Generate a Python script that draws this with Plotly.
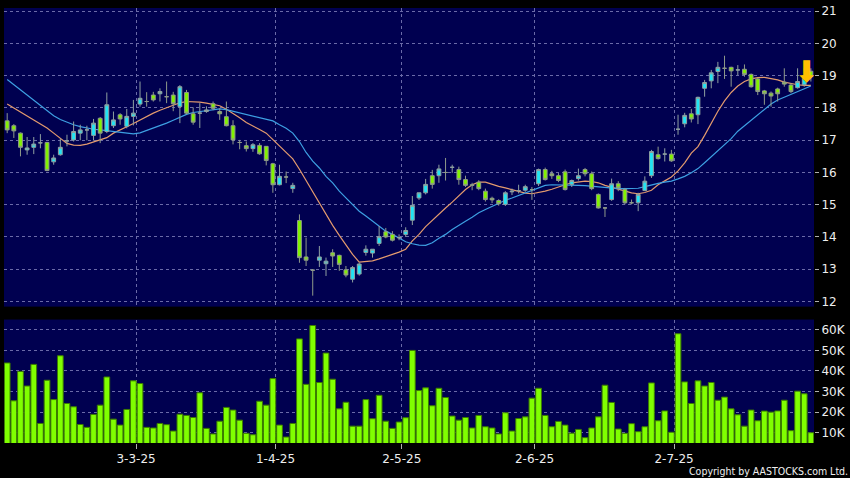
import plotly.graph_objects as go

# ---------------- data ----------------
opens = [17.60,17.45,17.22,16.70,16.78,16.92,16.93,16.33,16.55,16.98,
         17.01,17.22,17.32,17.15,17.68,17.27,17.45,17.79,17.43,17.74,
         18.12,18.20,18.40,18.44,18.35,18.40,18.04,18.48,17.82,17.84,
         17.89,18.13,17.89,17.73,17.45,16.93,16.83,16.74,16.84,16.81,
         16.27,15.62,15.86,15.50,14.51,13.38,12.97,13.28,13.17,13.51,
         13.43,12.98,12.69,12.85,13.52,13.50,13.80,14.16,14.08,13.98,
         14.08,14.52,15.21,15.37,15.90,15.90,16.00,16.16,16.09,15.78,
         15.62,15.70,15.42,15.20,15.13,15.01,15.40,15.44,15.45,15.47,
         15.65,16.09,15.96,15.90,16.02,15.63,15.81,16.09,15.96,15.32,
         14.90,15.16,15.65,15.47,15.06,15.06,15.44,15.90,16.55,16.57,
         16.57,17.34,17.51,17.82,17.79,18.61,18.84,19.13,19.23,19.26,
         19.18,19.20,19.04,18.90,18.53,18.46,18.59,18.80,18.71,18.63,
         18.72,19.14]

highs = [17.84,17.50,17.24,17.10,17.10,17.19,16.95,16.55,17.05,17.17,
         17.58,17.48,17.45,17.66,17.72,18.48,17.89,17.84,17.97,18.25,
         18.82,18.49,18.50,18.61,18.82,18.50,18.71,18.56,18.02,18.15,
         18.05,18.20,17.99,18.20,17.62,17.01,16.96,16.91,16.91,16.82,
         16.30,16.24,16.03,15.68,14.70,13.98,13.00,13.72,13.36,13.62,
         13.45,13.10,13.10,13.20,13.74,13.62,14.34,14.28,14.18,14.08,
         14.30,15.27,15.37,15.80,16.08,16.24,16.45,16.24,16.18,15.90,
         15.68,15.76,15.50,15.25,15.17,15.42,15.50,15.62,15.62,15.55,
         16.12,16.15,16.05,15.98,16.09,15.78,16.12,16.14,16.03,15.35,
         14.92,15.81,15.73,15.52,15.16,15.37,15.88,16.70,16.80,16.75,
         16.70,17.79,17.85,17.97,18.35,18.87,19.18,19.43,19.62,19.28,
         19.33,19.35,19.07,18.94,18.56,18.51,18.63,19.23,18.77,19.23,
         19.23,19.23]

lows = [17.22,17.07,16.50,16.55,16.57,16.75,16.04,16.24,16.52,16.81,
        16.96,17.00,17.00,16.99,16.91,17.22,17.38,17.48,17.37,17.46,
        18.04,18.04,18.20,18.20,18.15,17.90,17.53,17.80,17.48,17.38,
        17.85,17.93,17.63,17.43,16.87,16.72,16.65,16.64,16.55,16.22,
        15.37,15.60,15.67,15.37,13.20,13.10,12.18,13.07,12.79,13.07,
        12.95,12.75,12.59,12.80,13.42,13.36,13.72,13.96,13.86,13.90,
        14.00,14.37,15.15,15.32,15.50,15.68,15.75,15.99,15.62,15.55,
        15.45,15.45,15.10,15.05,14.97,14.96,15.30,15.35,15.40,15.15,
        15.58,15.75,15.80,15.70,15.44,15.55,15.75,15.88,15.45,14.88,
        14.62,15.12,15.42,15.01,15.01,14.80,15.42,15.83,16.40,16.34,
        16.33,17.17,17.40,17.55,17.50,18.35,18.61,18.77,18.90,18.66,
        19.02,18.97,18.63,18.40,18.10,18.04,18.20,18.66,18.46,18.60,
        18.66,18.82]

closes = [17.32,17.29,16.78,16.76,16.88,16.92,16.06,16.45,16.78,16.98,
          17.27,17.32,17.32,17.53,17.22,18.10,17.63,17.66,17.74,17.84,
          18.30,18.20,18.25,18.51,18.35,18.13,18.66,17.84,17.56,17.84,
          17.94,17.99,17.82,17.45,17.01,16.93,16.74,16.86,16.58,16.37,
          15.62,15.88,15.86,15.60,13.36,13.28,12.97,13.38,13.25,13.41,
          13.15,12.82,13.05,13.16,13.62,13.62,14.01,14.00,13.90,13.98,
          14.20,14.98,15.37,15.63,15.63,16.11,16.00,16.16,15.78,15.60,
          15.60,15.50,15.16,15.15,15.03,15.37,15.42,15.44,15.56,15.47,
          16.09,15.78,15.90,15.75,15.47,15.75,15.90,15.96,15.50,14.90,
          14.90,15.65,15.52,15.06,15.06,15.32,15.73,16.65,16.43,16.57,
          16.36,17.34,17.77,17.66,18.33,18.79,19.09,19.26,19.23,19.15,
          19.18,19.04,18.66,18.51,18.44,18.37,18.44,18.74,18.51,18.82,
          18.92,18.97]

volume = [43900,25500,39800,32700,43200,14500,35500,26100,47400,24200,
          22600,14000,12600,18900,23400,37100,16600,13700,21300,35200,
          33900,12600,12300,14500,13900,10800,19000,18400,17400,29400,
          12100,9400,15600,22300,21000,16100,9700,9000,25300,23400,
          36300,13700,7900,14500,55600,33500,62100,34400,48700,36000,
          21600,24800,13200,13200,26100,16800,28200,15600,12100,15200,
          17300,50000,30500,31800,23100,31600,27100,18100,16100,17400,
          12300,18400,12900,12300,9400,19700,10800,16900,17700,26800,
          31600,18400,12900,15500,13700,9800,11600,7600,12300,17700,
          33100,24700,11800,9700,14400,10500,12900,34200,15800,20600,
          10200,58100,34700,24200,35200,32700,34400,25800,27300,21600,
          18700,13200,21000,15800,20500,20000,20600,25800,11000,30200,
          28900,10000]

ma_short = [18.12,18.00,17.88,17.76,17.62,17.50,17.38,17.22,17.06,16.90,
            16.85,16.84,16.88,16.95,17.00,17.08,17.22,17.33,17.42,17.52,
            17.63,17.74,17.84,17.93,18.01,18.10,18.16,18.20,18.20,18.18,
            18.15,18.12,18.07,17.96,17.84,17.70,17.55,17.43,17.33,17.22,
            17.02,16.84,16.64,16.42,16.10,15.75,15.40,15.02,14.70,14.36,
            14.05,13.75,13.46,13.22,13.23,13.26,13.32,13.40,13.46,13.53,
            13.62,13.88,14.08,14.32,14.52,14.72,14.90,15.08,15.28,15.47,
            15.62,15.70,15.70,15.63,15.57,15.52,15.46,15.40,15.36,15.34,
            15.37,15.42,15.48,15.56,15.62,15.68,15.71,15.73,15.72,15.68,
            15.60,15.54,15.48,15.43,15.37,15.34,15.38,15.45,15.62,15.74,
            15.86,16.05,16.30,16.60,16.80,17.15,17.55,17.90,18.22,18.48,
            18.68,18.82,18.90,18.94,18.95,18.92,18.87,18.80,18.75,18.72,
            18.70,18.70]

ma_long = [18.88,18.72,18.55,18.40,18.24,18.07,17.90,17.76,17.64,17.55,
           17.48,17.42,17.37,17.34,17.32,17.30,17.27,17.24,17.22,17.20,
           17.23,17.30,17.38,17.45,17.53,17.62,17.72,17.80,17.86,17.89,
           17.92,17.95,17.97,17.95,17.90,17.84,17.79,17.74,17.70,17.65,
           17.60,17.48,17.37,17.22,16.96,16.62,16.35,16.14,15.88,15.68,
           15.42,15.21,15.00,14.80,14.65,14.49,14.34,14.18,14.08,13.96,
           13.85,13.79,13.75,13.74,13.82,13.96,14.08,14.23,14.37,14.49,
           14.61,14.75,14.85,14.95,15.06,15.14,15.21,15.29,15.37,15.44,
           15.54,15.60,15.62,15.62,15.62,15.61,15.60,15.59,15.57,15.55,
           15.53,15.51,15.50,15.50,15.50,15.51,15.56,15.62,15.66,15.70,
           15.73,15.80,15.88,15.99,16.12,16.30,16.48,16.66,16.85,17.05,
           17.28,17.45,17.60,17.78,17.97,18.12,18.25,18.34,18.42,18.50,
           18.60,18.68]

tick_index = [19, 40, 59, 79, 100]
tick_labels = ["3-3-25", "1-4-25", "2-5-25", "2-6-25", "2-7-25"]
price_ticks = [12, 13, 14, 15, 16, 17, 18, 19, 20, 21]
vol_ticks = [10000, 20000, 30000, 40000, 50000, 60000]
vol_tick_labels = ["10K", "20K", "30K", "40K", "50K", "60K"]
marker_index = 120.3
marker_price = 19.14

# ---------------- figure ----------------
idx = list(range(len(opens)))
tick_pos = [t + 0.4 for t in tick_index]

GRID = "#6a6aa8"
NAVY = "#000050"
FONT = "DejaVu Sans"

fig = go.Figure()

fig.add_trace(go.Scatter(x=idx, y=ma_short, mode="lines",
                         line=dict(color="#e39a6e", width=1.2),
                         xaxis="x", yaxis="y", hoverinfo="skip", showlegend=False))
fig.add_trace(go.Scatter(x=idx, y=ma_long, mode="lines",
                         line=dict(color="#3d9fe2", width=1.2),
                         xaxis="x", yaxis="y", hoverinfo="skip", showlegend=False))

fig.add_trace(go.Candlestick(
    x=idx, open=opens, high=highs, low=lows, close=closes,
    increasing=dict(fillcolor="#20e4f4", line=dict(color="#8fa0a0", width=1)),
    decreasing=dict(fillcolor="#82f200", line=dict(color="#8f9a8a", width=1)),
    whiskerwidth=0, xaxis="x", yaxis="y3", hoverinfo="skip", showlegend=False))

fig.add_trace(go.Bar(x=idx, y=volume,
                     marker=dict(color="#80ff00", line=dict(color="#3c7c00", width=1)),
                     xaxis="x2", yaxis="y2", hoverinfo="skip", showlegend=False))

axis_font = dict(family=FONT, size=12, color="#eeeeee")
xr = [-0.48, 121.47]
price_range = [11.84, 21.1]

fig.update_layout(
    width=850, height=478,
    margin=dict(l=4, r=33, t=6, b=35),
    paper_bgcolor="#000000", plot_bgcolor=NAVY,
    showlegend=False, boxgap=0.18, bargap=0.14,
    xaxis=dict(domain=[0, 1], anchor="y", range=xr, tickvals=tick_pos,
               showticklabels=False, ticks="", showgrid=True, gridcolor=GRID,
               griddash="3px,3px", gridwidth=1, zeroline=False, showline=False,
               rangeslider=dict(visible=False), fixedrange=True),
    yaxis=dict(domain=[0.3135, 1], anchor="x", range=price_range, side="right",
               tickvals=price_ticks, ticks="outside", ticklen=4, tickcolor="#b0b0b0",
               tickfont=axis_font, showgrid=True, gridcolor=GRID, griddash="3px,3px",
               zeroline=False, showline=False),
    yaxis3=dict(overlaying="y", anchor="x", range=price_range, side="right",
                showticklabels=False, showgrid=False, zeroline=False, ticks=""),
    xaxis2=dict(domain=[0, 1], anchor="y2", range=xr, tickvals=tick_pos,
                ticktext=tick_labels, ticks="outside", ticklen=5, tickcolor="#b0b0b0",
                tickfont=axis_font, showgrid=True, gridcolor=GRID, griddash="3px,3px",
                zeroline=False, showline=False),
    yaxis2=dict(domain=[0, 0.2838], anchor="x2", range=[5000, 65000], side="right",
                tickvals=vol_ticks, ticktext=vol_tick_labels, ticks="outside", ticklen=4,
                tickcolor="#b0b0b0", tickfont=axis_font, showgrid=True, gridcolor=GRID,
                griddash="3px,3px", zeroline=False, showline=False),
)

fig.add_annotation(x=marker_index, y=marker_price, xref="x", yref="y", text="⬇",
                   showarrow=False, font=dict(family=FONT, size=30, color="#ffc000"))

fig.add_annotation(x=1.044, y=-0.064, xref="paper", yref="paper",
                   text="Copyright by AASTOCKS.com Ltd.", showarrow=False,
                   xanchor="right", yanchor="middle",
                   font=dict(family="DejaVu Sans Condensed, DejaVu Sans", size=10.5, color="#f0f0f0"))

fig.write_html("out.html", config={"displayModeBar": False},
               post_script="document.body.style.margin='0';document.body.style.background='#000';")
